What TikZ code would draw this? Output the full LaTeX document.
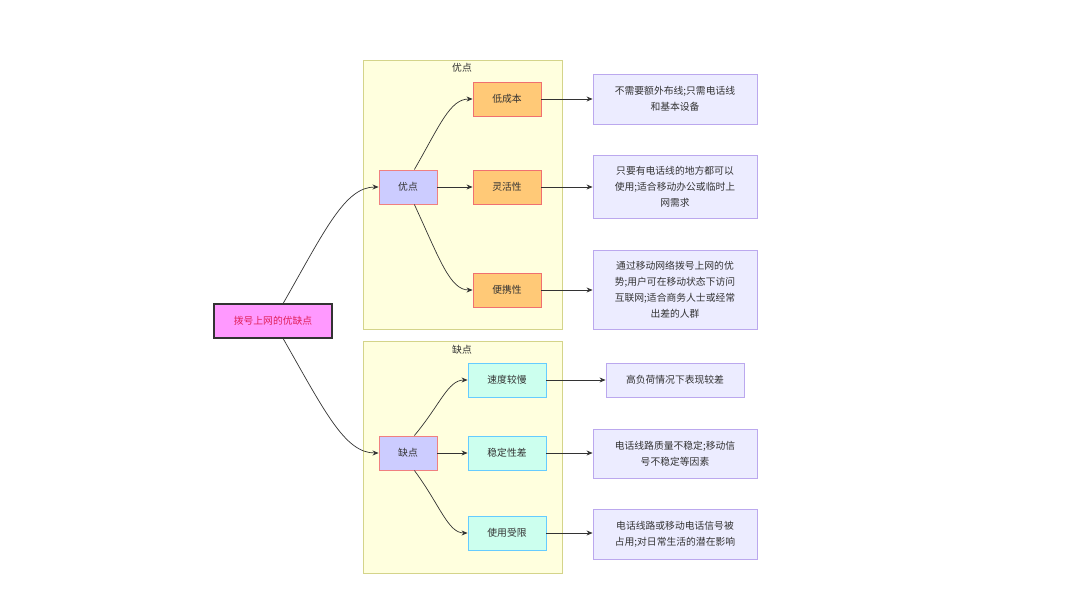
\documentclass[tikz,border=0pt]{standalone}
\usepackage{fontspec}
\setmainfont{Noto Sans CJK SC}
\usetikzlibrary{arrows.meta}
\definecolor{edgec}{HTML}{333333}
\definecolor{txt}{HTML}{333333}
\definecolor{rootfill}{HTML}{FF99FF}
\definecolor{roottxt}{HTML}{E0205A}
\definecolor{clfill}{HTML}{FFFFDE}
\definecolor{cldraw}{HTML}{D4D48A}
\definecolor{midfill}{HTML}{CCCCFF}
\definecolor{middraw}{HTML}{F08080}
\definecolor{profill}{HTML}{FFC977}
\definecolor{prodraw}{HTML}{F07070}
\definecolor{confill}{HTML}{CCFFEE}
\definecolor{condraw}{HTML}{66CCFF}
\definecolor{descfill}{HTML}{ECECFF}
\definecolor{descdraw}{HTML}{BBA8EE}
\tikzset{
  base/.style={rectangle, inner sep=1pt, align=center, text=txt, font=\fontsize{9.8}{16}\selectfont},
  rootbox/.style={base, fill=rootfill, draw=edgec, line width=2pt, minimum width=118pt, minimum height=34pt, text=roottxt},
  midbox/.style={base, fill=midfill, draw=middraw, line width=0.9pt, minimum width=58pt, minimum height=34pt},
  probox/.style={base, fill=profill, draw=prodraw, line width=0.9pt, minimum width=68pt, minimum height=34pt},
  conbox/.style={base, fill=confill, draw=condraw, line width=0.9pt, minimum width=78pt, minimum height=34pt},
  descbox/.style={base, fill=descfill, draw=descdraw, line width=0.9pt, minimum width=164pt, text width=158pt},
  cluster/.style={fill=clfill, draw=cldraw, line width=0.8pt},
  cllabel/.style={base},
  conn/.style={draw=edgec, line width=0.7pt, -{Stealth[length=6pt,width=5pt]}}
}
\begin{document}
\begin{tikzpicture}[x=1pt,y=-1pt]
\useasboundingbox[fill=white] (0,0) rectangle (1080,595);
% clusters
\draw[cluster] (363,60) rectangle (562,329);
\node[cllabel] (l1) at (462,68) {优点};
\draw[cluster] (363,341) rectangle (562,573);
\node[cllabel] (l2) at (462,350) {缺点};
% nodes
\node[rootbox] (root) at (273,321) {拨号上网的优缺点};
\node[midbox] (you) at (408,187) {优点};
\node[probox] (p1) at (507,99) {低成本};
\node[probox] (p2) at (507,187) {灵活性};
\node[probox] (p3) at (507,290) {便携性};
\node[descbox, minimum height=50pt] (d1) at (675,99) {不需要额外布线;只需电话线\\和基本设备};
\node[descbox, minimum height=63pt] (d2) at (675,186.5) {只要有电话线的地方都可以\\使用;适合移动办公或临时上\\网需求};
\node[descbox, minimum height=79pt] (d3) at (675,289.5) {通过移动网络拨号上网的优\\势;用户可在移动状态下访问\\互联网;适合商务人士或经常\\出差的人群};
\node[midbox] (que) at (408,453) {缺点};
\node[conbox] (c1) at (507,380) {速度较慢};
\node[conbox] (c2) at (507,453) {稳定性差};
\node[conbox] (c3) at (507,533) {使用受限};
\node[descbox, minimum width=138pt, text width=132pt, minimum height=34pt] (d4) at (675,380) {高负荷情况下表现较差};
\node[descbox, minimum height=49pt] (d5) at (675,453.5) {电话线路质量不稳定;移动信\\号不稳定等因素};
\node[descbox, minimum height=50pt] (d6) at (675,534) {电话线路或移动电话信号被\\占用;对日常生活的潜在影响};
% edges
\draw[conn] (root.60) .. controls (325,230) and (345,187) .. (you.west);
\draw[conn] (root.-60) .. controls (325,412) and (345,453) .. (que.west);
\draw[conn] (you.70) .. controls (440,125) and (450,99) .. (p1.west);
\draw[conn] (you.east) -- (p2.west);
\draw[conn] (you.-70) .. controls (440,260) and (450,290) .. (p3.west);
\draw[conn] (que.70) .. controls (440,405) and (448,380) .. (c1.west);
\draw[conn] (que.east) -- (c2.west);
\draw[conn] (que.-70) .. controls (440,505) and (448,533) .. (c3.west);
\draw[conn] (p1.east) -- (d1.west |- p1.east);
\draw[conn] (p2.east) -- (d2.west |- p2.east);
\draw[conn] (p3.east) -- (d3.west |- p3.east);
\draw[conn] (c1.east) -- (d4.west);
\draw[conn] (c2.east) -- (d5.west |- c2.east);
\draw[conn] (c3.east) -- (d6.west |- c3.east);
\end{tikzpicture}
\end{document}
